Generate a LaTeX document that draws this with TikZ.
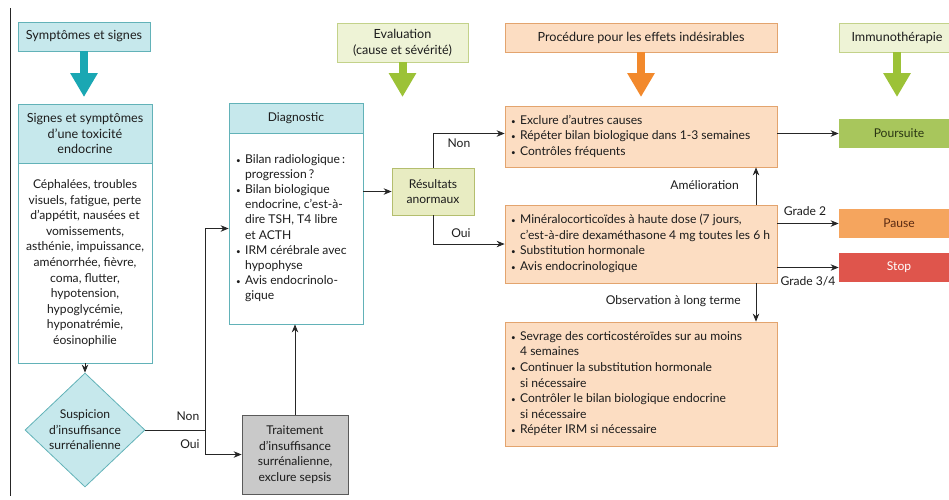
\documentclass[tikz,border=0pt]{standalone}
\usepackage{fontspec}
\setmainfont{Lato}
\usetikzlibrary{arrows.meta,shapes.geometric}

\definecolor{cyanf}{HTML}{C6E8EC}
\definecolor{cyand}{HTML}{62B2B8}
\definecolor{tealar}{HTML}{1AA7B3}
\definecolor{greenf}{HTML}{EEF3D6}
\definecolor{greend}{HTML}{C3D28A}
\definecolor{greenar}{HTML}{9CC237}
\definecolor{resf}{HTML}{E8ECC2}
\definecolor{resd}{HTML}{B4BE6E}
\definecolor{orf}{HTML}{FCDDC2}
\definecolor{ord}{HTML}{E3A46E}
\definecolor{orar}{HTML}{F2892C}
\definecolor{poursf}{HTML}{A8C65C}
\definecolor{pausef}{HTML}{F5A55E}
\definecolor{stopf}{HTML}{DF554C}
\definecolor{grayf}{HTML}{C9C9C9}
\definecolor{grayd}{HTML}{5A5A5A}
\definecolor{txt}{HTML}{1C1C1C}
\definecolor{pourst}{HTML}{2A3512}
\definecolor{pauset}{HTML}{5A2A12}

% bullet and fixed-width bullet list (no automatic line breaking)
\newcommand\bul{{\footnotesize\textbullet}}
\newcommand\blist[2]{\makebox[#1][l]{\begin{tabular}{@{}l@{\hspace{4.5pt}}l@{}}#2\end{tabular}}}

\begin{document}
\begin{tikzpicture}[x=1pt,y=-1pt,
  every node/.style={text=txt},
  fnt/.style={font=\fontsize{12.1}{15.6}\selectfont},
  hfnt/.style={font=\fontsize{12.6}{15.6}\selectfont},
  panel/.style={rectangle, draw, line width=0.8pt, inner sep=0pt, align=center, fnt},
  cyanbox/.style={panel, draw=cyand, fill=cyanf},
  whitebox/.style={panel, draw=cyand, fill=white},
  greenbox/.style={panel, draw=greend, fill=greenf},
  resbox/.style={panel, draw=resd, fill=resf},
  orbox/.style={panel, draw=ord, fill=orf},
  graybox/.style={panel, draw=grayd, fill=grayf},
  outcome/.style={panel, draw=none, minimum width=120pt, minimum height=29pt},
  link/.style={draw=black!85, line width=0.8pt},
  arr/.style={link, -{Stealth[length=8pt,width=6.5pt]}},
  bigarrow/.style={line width=8pt, -{Triangle[width=26pt,length=24pt]}},
  lbl/.style={fnt, inner sep=0pt}
]
\useasboundingbox (0,0) rectangle (949,499);
\clip (0,0) rectangle (949,499);

% left margin rule
\draw[line width=0.7pt, black!85] (10,8) -- (10,496);

% ---- column headers ----
\node[cyanbox, hfnt, minimum width=132pt, minimum height=29pt] (symp) at (84,36.5) {Symptômes et signes};
\node[greenbox, hfnt, minimum width=131pt, minimum height=39pt] (eval) at (402.5,42.5) {Evaluation\\(cause et sévérité)};
\node[orbox, hfnt, minimum width=272pt, minimum height=29pt] (proc) at (641,37.5) {Procédure pour les effets indésirables};
\node[greenbox, hfnt, minimum width=116pt, minimum height=29pt] (immuno) at (897,37.5) {Immunothérapie};

\coordinate (sympend) at (84,97);
\coordinate (evalend) at (402.5,97);
\coordinate (procend) at (641,97);
\coordinate (immunoend) at (897,97);
\draw[bigarrow, tealar] (symp.south) -- (sympend);
\draw[bigarrow, greenar] (eval.south) -- (evalend);
\draw[bigarrow, orar] (proc.south) -- (procend);
\draw[bigarrow, greenar] (immuno.south) -- (immunoend);

% ---- symptoms ----
\node[cyanbox, hfnt, minimum width=134pt, minimum height=59pt] (signhead) at (85,133.5)
  {Signes et symptômes\\d'une toxicité\\endocrine};
\node[whitebox, minimum width=134pt, minimum height=200pt] (signbody) at (85,263)
  {Céphalées, troubles\\visuels, fatigue, perte\\d'appétit, nausées et\\vomissements,\\asthénie, impuissance,\\aménorrhée, fièvre,\\coma, flutter,\\hypotension,\\hypoglycémie,\\hyponatrémie,\\éosinophilie};

% ---- suspicion of adrenal insufficiency ----
\node[diamond, draw=cyand, fill=cyanf, line width=0.8pt, inner sep=0pt,
      minimum width=120pt, minimum height=114pt] (susp) at (85,430) {};
\node[lbl, align=center] (susptxt) at (susp.center) {Suspicion\\d'insuffisance\\surrénalienne};

\node[graybox, minimum width=106pt, minimum height=79pt] (trait) at (295,454.5)
  {Traitement\\d'insuffisance\\surrénalienne,\\exclure sepsis};

% ---- diagnosis ----
\node[cyanbox, minimum width=134pt, minimum height=30pt] (diaghead) at (296,118) {Diagnostic};
\node[whitebox, minimum width=134pt, minimum height=191pt] (diagbody) at (296,228.5)
  {\raisebox{-8pt}{\fontsize{12.1}{15.1}\selectfont\blist{120pt}{\bul & Bilan radiologique\,:\\ & progression\,?\\
   \bul & Bilan biologique\\ & endocrine, c'est-à-\\ & dire TSH, T4 libre\\ & et ACTH\\
   \bul & IRM cérébrale avec\\ & hypophyse\\ \bul & Avis endocrinolo-\\ & gique}}};

\node[resbox, minimum width=82pt, minimum height=47pt] (res) at (433,191.5) {Résultats\\anormaux};

% ---- procedures ----
\node[orbox, minimum width=272pt, minimum height=61pt] (box1) at (641,136.5)
  {\blist{260pt}{\bul & Exclure d'autres causes\\ \bul & Répéter bilan biologique dans 1-3 semaines\\ \bul & Contrôles fréquents}};
\node[orbox, minimum width=272pt, minimum height=78pt] (box2) at (641,244)
  {\blist{260pt}{\bul & Minéralocorticoïdes à haute dose (7 jours,\\ & c'est-à-dire dexaméthasone 4 mg toutes les 6 h\\ \bul & Substitution hormonale\\ \bul & Avis endocrinologique}};
\node[orbox, minimum width=272pt, minimum height=124pt] (box3) at (641,384)
  {\blist{260pt}{\bul & Sevrage des corticostéroïdes sur au moins\\ & 4 semaines\\ \bul & Continuer la substitution hormonale\\ & si nécessaire\\ \bul & Contrôler le bilan biologique endocrine\\ & si nécessaire\\ \bul & Répéter IRM si nécessaire}};

% ---- immunotherapy outcomes ----
\node[outcome, fill=poursf, text=pourst] (pours) at (899,133.5) {Poursuite};
\node[outcome, fill=pausef, text=pauset] (pause) at (899,223.5) {Pause};
\node[outcome, fill=stopf, text=white] (stop) at (899,267.5) {Stop};

% ---- connectors ----
\draw[arr] (signbody.south) -- (susp.north);
\coordinate (split) at (205,430);
\draw[link] (susp.east) -- (split);
\draw[arr] (split) |- (diagbody.west);
\draw[arr] (split) |- (trait.west);
\node[lbl] (susnon) at (188,416) {Non};
\node[lbl] (susoui) at (190,444) {Oui};

\draw[arr] (trait.north) -- (trait.north |- diagbody.south);
\draw[arr] (diagbody.east |- res.west) -- (res.west);

\draw[arr] (res.north) |- ([yshift=3pt]box1.west);
\draw[arr] (res.south) |- (box2.west);
\node[lbl] (resnon) at (459,143) {Non};
\node[lbl] (resoui) at (461,233) {Oui};

\draw[arr] (box1.east |- pours.west) -- (pours.west);
\draw[arr] (box2.east |- pause.west) -- (pause.west);
\draw[arr] (box2.east |- stop.west) -- (stop.west);
\node[lbl] (g2) at (805,211) {Grade 2};
\node[lbl] (g34) at (808,281) {Grade 3/4};

\draw[arr] ([xshift=115pt]box2.north) -- ([xshift=115pt]box1.south);
\node[lbl, anchor=east] (amel) at (739,185) {Amélioration};
\draw[arr] ([xshift=115pt]box2.south) -- ([xshift=115pt]box3.north);
\node[lbl, anchor=east] (obs) at (741,301) {Observation à long terme};
\end{tikzpicture}
\end{document}
